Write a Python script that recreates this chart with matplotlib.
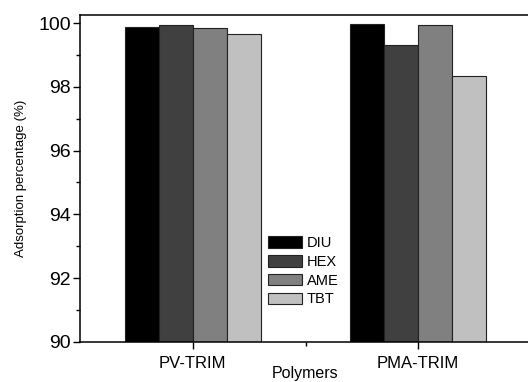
import matplotlib
matplotlib.use("Agg")
import matplotlib.pyplot as plt
from matplotlib.ticker import MultipleLocator, FixedLocator
import numpy as np

plt.rcParams['font.family'] = ['Liberation Sans', 'DejaVu Sans']

polymers = ["PV-TRIM", "PMA-TRIM"]
series = ["DIU", "HEX", "AME", "TBT"]
values = {
    "DIU": [99.89, 99.99],
    "HEX": [99.96, 99.33],
    "AME": [99.86, 99.96],
    "TBT": [99.67, 98.34],
}
colors = ["#000000", "#404040", "#808080", "#c0c0c0"]

fig = plt.figure(figsize=(5.28, 3.82), dpi=100)
ax = fig.add_axes([80/528, 1 - 341.7/382, 451/528, (341.7 - 15)/382])

x = np.arange(len(polymers))
w = 0.151
for i, (name, c) in enumerate(zip(series, colors)):
    ax.bar(x + (i - 1.5) * w, values[name], w, bottom=0, color=c,
           edgecolor="#222222", linewidth=0.8, label=name)

ax.set_ylim(90, 100.26)
ax.set_xlim(-0.5, 1.5)
ax.set_xticks(x)
ax.set_xticklabels(polymers, fontsize=12)
ax.xaxis.set_minor_locator(FixedLocator([0.5]))
ax.yaxis.set_major_locator(MultipleLocator(2))
ax.yaxis.set_minor_locator(MultipleLocator(1))
ax.tick_params(axis="y", labelsize=14, length=5, width=1, pad=1.5)
ax.tick_params(axis="x", length=5, width=1, pad=5)
ax.tick_params(which="minor", length=3, width=1)
for s in ax.spines.values():
    s.set_linewidth(1.1)

ax.set_ylabel("Adsorption percentage (%)", fontsize=9.5, labelpad=8)
ax.set_xlabel("Polymers", fontsize=11.5, labelpad=-3)

fig.legend(loc="upper left", bbox_to_anchor=(268/528, 1 - 236/382),
           frameon=False, fontsize=10.5, borderpad=0, borderaxespad=0,
           handlelength=2.3, handleheight=0.85, labelspacing=0.33,
           handletextpad=0.35)

fig.savefig("out.png", dpi=100)
